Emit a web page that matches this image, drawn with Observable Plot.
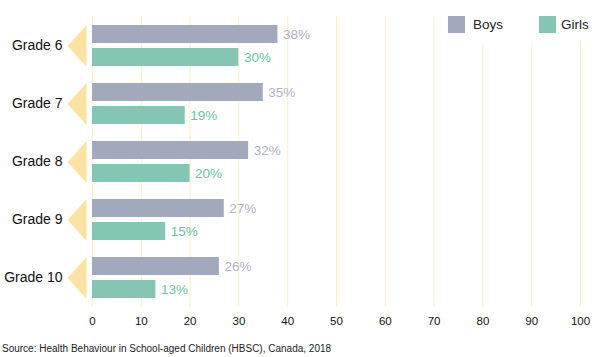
<!DOCTYPE html>
<html>
<head>
<meta charset="utf-8">
<script src="https://cdn.jsdelivr.net/npm/d3@7"></script>
<script src="https://cdn.jsdelivr.net/npm/@observablehq/plot@0.6"></script>
<style>
  html, body { margin: 0; padding: 0; background: #fff; }
  body { width: 600px; height: 357px; position: relative; overflow: hidden; font-family: "Liberation Sans", Arial, Helvetica, sans-serif; }
  #chart { position: absolute; left: 0; top: 0; }
  .legend { position: absolute; top: 16px; font-size: 13.5px; color: #222; display: flex; align-items: center; }
  .legend .sw { width: 17px; height: 17px; margin-right: 8px; }
  .caption { position: absolute; left: 2px; top: 343px; font-size: 10px; color: #222; }
</style>
</head>
<body>
<div id="chart"></div>
<div class="legend" style="left:448px"><span class="sw" style="background:#a2a9bd"></span>Boys</div>
<div class="legend" style="left:539px"><span class="sw" style="background:#84c5b4; margin-right:5px"></span>Girls</div>
<div class="caption">Source: Health Behaviour in School-aged Children (HBSC), Canada, 2018</div>
<script>
const grades = ["Grade 6", "Grade 7", "Grade 8", "Grade 9", "Grade 10"];
const boys = [38, 35, 32, 27, 26];
const girls = [30, 19, 20, 15, 13];
const xTicks = [0, 10, 20, 30, 40, 50, 60, 70, 80, 90, 100];

const boysColor = "#a2a9bd";
const girlsColor = "#84c5b4";
const boysText = "#aeb3c6";
const girlsText = "#6dbfa7";

const boysData = grades.map((g, i) => ({grade: g, value: boys[i]}));
const girlsData = grades.map((g, i) => ({grade: g, value: girls[i]}));

const triangle = {
  draw(context) {
    context.moveTo(0, -21);
    context.lineTo(0, 21);
    context.lineTo(-19, 0);
    context.closePath();
  }
};

const chart = Plot.plot({
  width: 600,
  height: 332,
  marginTop: 16,
  marginBottom: 25,
  marginLeft: 92,
  marginRight: 20,
  style: {fontFamily: "'Liberation Sans', Arial, Helvetica, sans-serif", background: "transparent"},
  x: {domain: [0, 100], ticks: xTicks, tickSize: 0, tickPadding: 9, label: null, line: false},
  y: {domain: grades, paddingInner: 0.29, paddingOuter: 0.15, tickSize: 0, tickPadding: 30, label: null, line: false},
  marks: [
    Plot.ruleX(xTicks.filter(d => d < 80), {stroke: "#fcefc4", strokeWidth: 1}),
    Plot.ruleX(xTicks.filter(d => d >= 80), {stroke: "#fcefc4", strokeWidth: 1, insetTop: 27}),
    Plot.dot(grades, {y: d => d, frameAnchor: "left", dx: -6, r: 5, symbol: triangle, fill: "#fde3a3", stroke: "none"}),
    Plot.barX(boysData, {x: "value", y: "grade", fill: boysColor, insetBottom: 23}),
    Plot.barX(girlsData, {x: "value", y: "grade", fill: girlsColor, insetTop: 23}),
    Plot.text(boysData, {x: "value", y: "grade", text: d => d.value + "%", dx: 5, dy: -11.5, textAnchor: "start", fill: boysText, fontSize: 13.5}),
    Plot.text(girlsData, {x: "value", y: "grade", text: d => d.value + "%", dx: 5, dy: 11.5, textAnchor: "start", fill: girlsText, fontSize: 13.5})
  ]
});
chart.querySelectorAll('[aria-label="y-axis tick label"] text, [aria-label="y-axis"] text').forEach(t => { t.style.fontSize = "14px"; t.setAttribute("fill", "#111"); });
chart.querySelectorAll('[aria-label="x-axis tick label"] text, [aria-label="x-axis"] text').forEach(t => { t.style.fontSize = "11.5px"; t.setAttribute("fill", "#111"); });
document.getElementById("chart").appendChild(chart);
</script>
</body>
</html>
